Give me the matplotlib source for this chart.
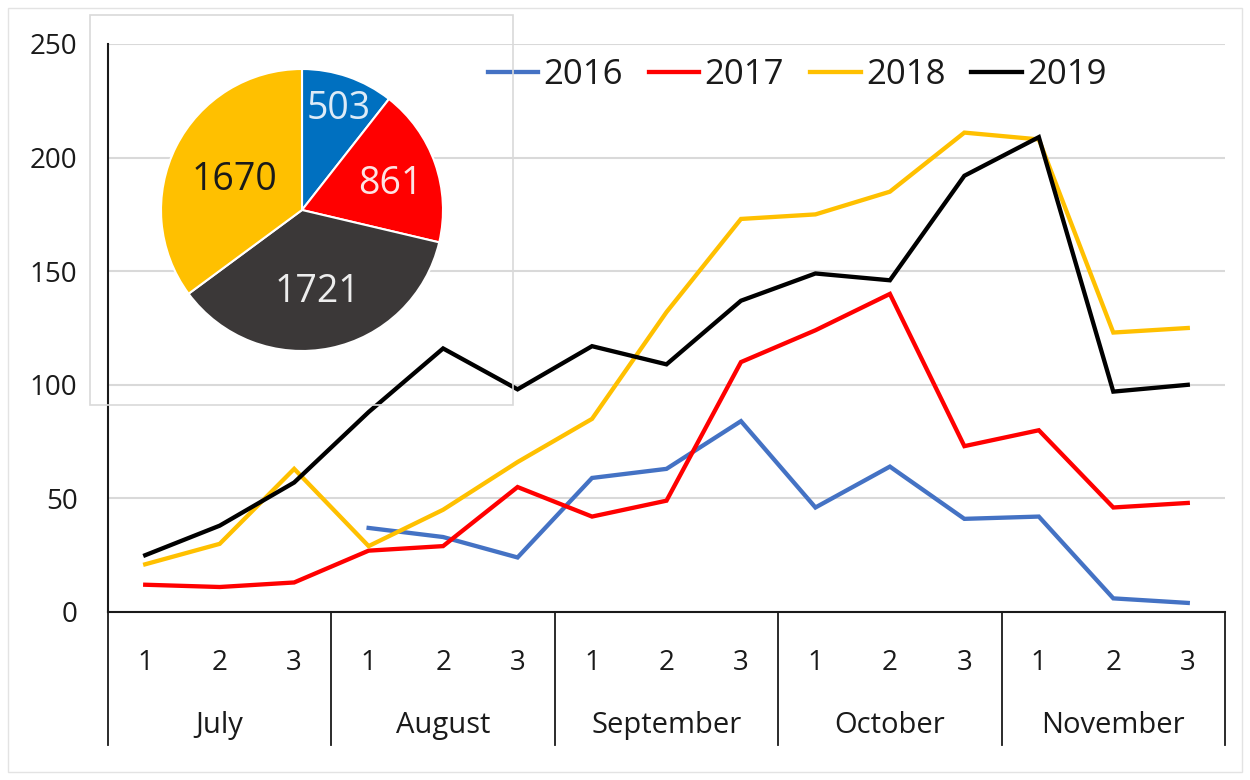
import numpy as np
import matplotlib
matplotlib.use("Agg")
import matplotlib.pyplot as plt
import matplotlib.transforms as mtransforms
from matplotlib.patches import Rectangle

plt.rcParams['font.family'] = ['Open Sans', 'DejaVu Sans']

# ---------------- data ----------------
months = ["July", "August", "September", "October", "November"]
decades = ["1", "2", "3"]
y2016 = [None, None, None, 37, 33, 24, 59, 63, 84, 46, 64, 41, 42, 6, 4]
y2017 = [12, 11, 13, 27, 29, 55, 42, 49, 110, 124, 140, 73, 80, 46, 48]
y2018 = [21, 30, 63, 29, 45, 66, 85, 132, 173, 175, 185, 211, 208, 123, 125]
y2019 = [25, 38, 57, 88, 116, 98, 117, 109, 137, 149, 146, 192, 209, 97, 100]
series_names = ["2016", "2017", "2018", "2019"]
line_colors = ["#4472C4", "#FF0000", "#FFC000", "#000000"]

pie_values = [503, 861, 1721, 1670]
pie_colors = ["#0070C0", "#FF0000", "#3B3838", "#FFC000"]
pie_text_colors = ["#DDEBF7", "#FDE4E4", "#EDEDED", "#1A1A1A"]
pie_label_dist = [0.79, 0.66, 0.56, 0.54]
yticks = [0, 50, 100, 150, 200, 250]

# ---------------- figure ----------------
W, H = 1250, 780
fig = plt.figure(figsize=(W / 100, H / 100), dpi=100)

# outer faint frame
fig.patches.append(Rectangle((8 / W, 8 / H), 1 - 16 / W, 1 - 16 / H,
                             transform=fig.transFigure, fill=False,
                             edgecolor="#E3E3E3", linewidth=1.0))

ax_l, ax_r, ax_t, ax_b = 108, 1225, 44, 612
ax = fig.add_axes([ax_l / W, 1 - ax_b / H, (ax_r - ax_l) / W, (ax_b - ax_t) / H])

n = len(months) * len(decades)
x = np.arange(n)
for name, vals, c in zip(series_names, [y2016, y2017, y2018, y2019], line_colors):
    v = np.array([np.nan if a is None else a for a in vals], dtype=float)
    ax.plot(x, v, color=c, lw=3.1, label=name, solid_joinstyle='miter', zorder=3)

ax.set_xlim(-0.5, n - 0.5)
ax.set_ylim(0, 250)
ax.set_yticks(yticks)
ax.yaxis.grid(True, color="#D9D9D9", lw=1.5)
ax.set_axisbelow(True)
ax.tick_params(axis='y', length=0, pad=22, labelsize=20, labelcolor="#1A1A1A")
ax.set_xticks([])
for s in ["top", "right"]:
    ax.spines[s].set_visible(False)
ax.spines["left"].set_color("#1A1A1A")
ax.spines["left"].set_linewidth(1.5)
ax.spines["bottom"].set_color("#1A1A1A")
ax.spines["bottom"].set_linewidth(1.5)

# multi-level category axis
axh = ax_b - ax_t
trans = mtransforms.blended_transform_factory(ax.transData, ax.transAxes)
y_dec = -(660 - ax_b) / axh
y_mon = -(722 - ax_b) / axh
y_sep = -(745 - ax_b) / axh
for i in range(n):
    ax.text(x[i], y_dec, decades[i % 3], transform=trans, ha='center',
            va='center_baseline', fontsize=20, color="#1A1A1A")
for m, name in enumerate(months):
    ax.text(m * 3 + 1, y_mon, name, transform=trans, ha='center',
            va='center_baseline', fontsize=21, color="#1A1A1A")
for m in range(len(months) + 1):
    xs = m * 3 - 0.5
    ax.plot([xs, xs], [0, y_sep], transform=trans, color="#1A1A1A", lw=1.3,
            clip_on=False)

# legend
leg = ax.legend(loc='center left', bbox_to_anchor=(488 / W, 1 - 75 / H),
                bbox_transform=fig.transFigure, ncol=4, frameon=False,
                fontsize=25, handlelength=1.45, handletextpad=0.15,
                columnspacing=0.75, borderpad=0, borderaxespad=0)
for t in leg.get_texts():
    t.set_color("#1A1A1A")

# pie inset box
fig.patches.append(Rectangle((90 / W, 1 - 405 / H), (513 - 90) / W, (405 - 15) / H,
                             transform=fig.transFigure, fill=False,
                             edgecolor="#D9D9D9", linewidth=1.2, zorder=5))

cx, cy, r = 302, 210, 141
pax = fig.add_axes([(cx - r) / W, 1 - (cy + r) / H, 2 * r / W, 2 * r / H])
wedges, _ = pax.pie(pie_values, colors=pie_colors, startangle=90, counterclock=False,
                    radius=1.0, wedgeprops=dict(edgecolor='white', linewidth=1.5))
pax.set_xlim(-1, 1)
pax.set_ylim(-1, 1)
pax.set_aspect('auto')
pax.axis('off')
for w, val, tc, d in zip(wedges, pie_values, pie_text_colors, pie_label_dist):
    ang = np.deg2rad((w.theta1 + w.theta2) / 2)
    pax.text(d * np.cos(ang), d * np.sin(ang), str(val), ha='center',
             va='center_baseline', fontsize=27, color=tc)

fig.savefig("out.png", dpi=100, facecolor="white")
